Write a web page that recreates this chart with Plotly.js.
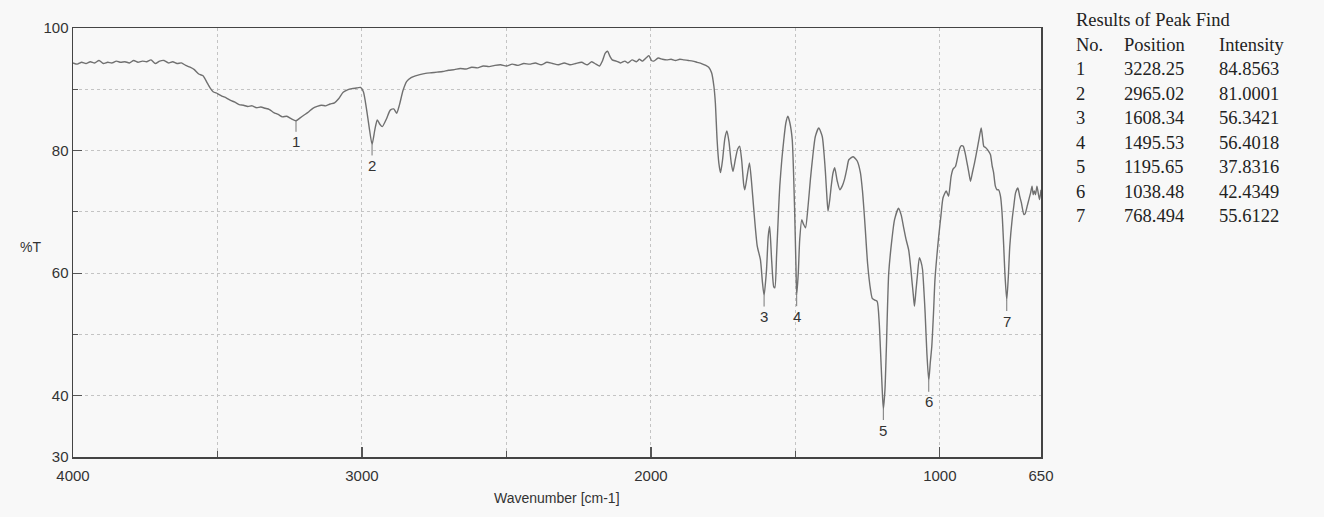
<!DOCTYPE html>
<html>
<head>
<meta charset="utf-8">
<script src="https://cdn.plot.ly/plotly-3.0.1.min.js"></script>
<style>
html,body{margin:0;padding:0;background:#f8f8f8;}
#chart{width:1324px;height:517px;}
</style>
</head>
<body>
<div id="chart"></div>
<script>
// ---- Spectrum data (wavenumber cm-1, %T) ----
var wavenumber = [
4000,3985,3970,3955,3940,3925,3910,3895,3880,3865,3850,3835,3820,3805,3790,3775,3760,3745,3730,3715,
3700,3685,3670,3655,3640,3625,3610,3595,3580,3565,3550,3535,3525,3515,3500,3485,3470,3455,3440,3425,
3410,3395,3380,3365,3350,3335,3320,3305,3290,3275,3260,3245,3228.25,3215,3200,3185,3170,3155,3140,3125,
3110,3095,3080,3065,3050,3035,3020,3005,2995,2985,2975,2965.02,2955,2947,2938,2930,2915,2902,2890,2880,
2870,2858,2845,2830,2815,2800,2780,2760,2740,2720,2700,2680,2660,2640,2620,2600,2580,2560,2540,2520,
2500,2480,2460,2440,2420,2400,2380,2360,2340,2320,2300,2280,2260,2240,2220,2205,2190,2178,2168,2158,
2150,2142,2134,2120,2105,2090,2080,2065,2050,2040,2030,2015,2007,1998,1990,1975,1960,1945,1930,1915,
1900,1886,1870,1855,1840,1825,1810,1800,1790,1782,1777,1771,1765,1759,1752,1744,1737,1730,1722,1716,
1708,1700,1693,1686,1679,1675,1668,1659,1652,1644,1632,1621,1614,1608.34,1600,1594,1589,1582,1575,1571,
1565,1558,1554,1547,1540,1533,1526,1519,1511,1503,1498,1495.53,1490,1485,1478,1472,1465,1456,1448,1440,
1431,1419,1407,1400,1396,1391,1387,1381,1376,1370,1364,1355,1346,1338,1330,1322,1315,1300,1286,1275,
1268,1263,1258,1250,1240,1234,1225,1217,1210,1206,1200,1195.65,1190,1185,1177,1166,1157,1143,1134,1126,
1117,1108,1100,1097,1092,1088,1083,1077,1071,1065,1060,1055,1051,1045,1038.48,1033,1028,1022,1017,1010,
1004,996,989,978,970,961,954,946,938,931,925,919,913,908,900,894,887,880,871,864,
857,852,848,842,836,830,825,819,814,808,802,797,790,785,779,775,768.494,763,758,750,
744,738,730,724,718,709,704,698,692,686,681,677,673,669,664,659,655,650
];
var transmittance = [
94.3,94.1,94.4,94.2,94.5,94.3,94.7,94.2,94.4,94.3,94.6,94.4,94.5,94.3,94.7,94.4,94.6,94.5,94.8,94.2,
94.6,94.7,94.3,94.5,94.2,94.3,93.9,93.6,93.2,92.5,92.2,91.0,90.2,89.6,89.3,88.9,88.6,88.2,87.9,87.5,
87.4,87.2,87.3,87.0,87.1,86.9,86.7,86.2,85.9,85.5,85.6,85.2,84.86,85.3,85.8,86.3,86.9,87.2,87.4,87.3,
87.6,87.8,88.5,89.5,89.9,90.1,90.2,90.3,89.6,87.0,83.8,81.0,83.5,85.0,84.3,83.9,85.2,86.6,86.8,86.1,
87.5,89.8,91.3,91.9,92.2,92.4,92.6,92.7,92.8,92.9,93.1,93.2,93.4,93.3,93.6,93.5,93.8,93.7,93.9,94.0,
93.8,94.1,93.9,94.2,94.1,94.3,94.0,94.4,94.2,94.0,94.3,94.0,94.2,94.4,94.0,94.5,94.1,93.8,94.6,95.9,
96.2,95.4,94.8,94.6,94.3,94.6,94.3,94.8,94.5,94.9,94.6,95.2,95.5,94.7,94.6,95.1,94.9,94.8,94.9,94.7,
94.9,94.8,94.7,94.6,94.4,94.2,93.9,93.6,92.7,90.5,87.8,81.8,78.0,76.4,78.5,82.0,83.2,81.5,78.0,76.6,
78.5,80.2,80.7,78.5,74.5,73.6,75.5,78.0,75.0,70.4,64.4,62.2,58.5,56.34,60.5,66.0,67.6,62.0,57.8,57.6,
63.0,70.5,74.2,78.5,81.8,84.5,85.6,84.5,81.8,70.9,61.0,56.40,60.0,65.5,68.7,68.0,67.4,71.0,75.3,79.0,
82.3,83.7,82.3,79.0,76.4,72.5,70.1,72.0,74.2,76.3,77.2,75.0,73.6,74.2,75.3,77.0,78.5,79.0,78.3,76.4,
73.5,70.5,67.1,61.5,57.3,55.9,55.6,55.4,52.0,48.0,41.5,37.83,41.0,48.0,60.0,65.5,68.7,70.6,69.5,67.6,
65.5,63.8,60.5,58.9,56.5,54.6,57.0,60.0,62.5,61.8,60.6,57.0,53.5,47.0,42.43,45.5,48.0,53.5,58.9,63.0,
66.0,69.5,72.3,73.4,72.55,75.8,77.0,77.4,79.0,80.4,80.8,80.7,79.7,78.5,76.5,75.0,76.5,78.0,80.2,82.0,
83.7,82.0,80.7,80.5,80.2,79.8,79.35,77.5,76.4,74.2,73.6,73.6,72.5,70.0,64.4,60.0,55.61,59.5,64.4,68.7,
71.0,73.1,73.9,72.6,71.5,69.55,69.8,70.9,72.0,73.1,74.2,72.8,73.4,72.8,74.2,72.9,72.0,73.6
];

// ---- Peak find results ----
var peakNo = ["1","2","3","4","5","6","7"];
var peakPosition = [3228.25, 2965.02, 1608.34, 1495.53, 1195.65, 1038.48, 768.494];
var peakIntensity = [84.8563, 81.0001, 56.3421, 56.4018, 37.8316, 42.4349, 55.6122];
var peakPositionText = ["3228.25","2965.02","1608.34","1495.53","1195.65","1038.48","768.494"];
var peakIntensityText = ["84.8563","81.0001","56.3421","56.4018","37.8316","42.4349","55.6122"];

// ---- Axis ticks ----
var xMajorTicks = [4000, 3000, 2000, 1000, 650];
var xMinorTicks = [3500, 2500, 1500];
var yMajorTicks = [30, 40, 60, 80, 100];
var yMinorTicks = [50, 70, 90];

// ---- layout geometry (pixels) ----
var W = 1324, H = 517;
var mL = 73, mR = 283, mT = 28, mB = 60;
var plotW = W - mL - mR, plotH = H - mT - mB;
function px2x(px){ return (px - mL) / plotW; }
function py2y(py){ return (H - mB - py) / plotH; }

var sansFont = '"Liberation Sans", Arial, sans-serif';
var serifFont = '"Liberation Serif", "Times New Roman", serif';

var annotations = [];
// peak labels
for (var i = 0; i < peakNo.length; i++) {
  annotations.push({
    x: peakPosition[i], y: peakIntensity[i], xref: 'x', yref: 'y',
    text: peakNo[i], showarrow: true, arrowhead: 0, arrowwidth: 1,
    arrowcolor: '#777', ax: 0, ay: 21,
    font: {family: sansFont, size: 15, color: '#333'}
  });
}
// y axis title
annotations.push({
  xref: 'paper', yref: 'paper', x: px2x(30), y: py2y(247),
  xanchor: 'center', yanchor: 'middle', showarrow: false,
  text: '%T', font: {family: sansFont, size: 14, color: '#333'}
});
// x axis title
annotations.push({
  xref: 'paper', yref: 'paper', x: px2x(557), y: py2y(498),
  xanchor: 'center', yanchor: 'middle', showarrow: false,
  text: 'Wavenumber [cm-1]', font: {family: sansFont, size: 14, color: '#333'}
});
// results table
var tFont = {family: serifFont, size: 18.5, color: '#222'};
var colX = [1075, 1123, 1218];
var rowY0 = 69, rowStep = 24.5;
annotations.push({xref:'paper', yref:'paper', x:px2x(1074), y:py2y(20), xanchor:'left', yanchor:'middle',
  showarrow:false, text:'Results of Peak Find', font:tFont});
var header = ['No.', 'Position', 'Intensity'];
for (var c = 0; c < 3; c++) {
  annotations.push({xref:'paper', yref:'paper', x:px2x(colX[c] - 1), y:py2y(45), xanchor:'left', yanchor:'middle',
    showarrow:false, text:header[c], font:tFont});
}
for (var r = 0; r < peakNo.length; r++) {
  var cells = [peakNo[r], peakPositionText[r], peakIntensityText[r]];
  for (var c2 = 0; c2 < 3; c2++) {
    annotations.push({xref:'paper', yref:'paper', x:px2x(colX[c2] - 1), y:py2y(rowY0 + r*rowStep),
      xanchor:'left', yanchor:'middle', showarrow:false, text:cells[c2], font:tFont});
  }
}

var trace = {
  x: wavenumber, y: transmittance, type: 'scatter', mode: 'lines',
  line: {color: '#707070', width: 1.4, shape: 'spline', smoothing: 0.6},
  hoverinfo: 'x+y'
};

var layout = {
  width: W, height: H,
  margin: {l: mL, r: mR, t: mT, b: mB, pad: 0},
  paper_bgcolor: '#f8f8f8', plot_bgcolor: '#f8f8f8',
  showlegend: false,
  xaxis: {
    range: [4000, 650], autorange: false,
    tickmode: 'array', tickvals: xMajorTicks, ticktext: xMajorTicks.map(String),
    ticks: 'inside', ticklen: 10, tickwidth: 1.2, tickcolor: '#555',
    ticklabelstandoff: 4,
    showgrid: true, gridcolor: '#c4c4c4', griddash: 'dot', gridwidth: 1,
    minor: {tickmode: 'array', tickvals: xMinorTicks, ticks: 'inside', ticklen: 6, tickcolor: '#555',
            showgrid: true, gridcolor: '#c4c4c4', griddash: 'dot', gridwidth: 1},
    showline: true, linecolor: '#444', linewidth: 1.5, mirror: true,
    zeroline: false,
    tickfont: {family: sansFont, size: 15, color: '#333'}
  },
  yaxis: {
    range: [30, 100], autorange: false,
    tickmode: 'array', tickvals: yMajorTicks, ticktext: yMajorTicks.map(String),
    ticks: 'inside', ticklen: 9, tickwidth: 1.2, tickcolor: '#555',
    showgrid: true, gridcolor: '#c4c4c4', griddash: 'dot', gridwidth: 1,
    minor: {tickmode: 'array', tickvals: yMinorTicks, ticks: 'inside', ticklen: 5, tickcolor: '#555',
            showgrid: true, gridcolor: '#c4c4c4', griddash: 'dot', gridwidth: 1},
    showline: true, linecolor: '#444', linewidth: 1.5, mirror: true,
    zeroline: false,
    tickfont: {family: sansFont, size: 15, color: '#333'}
  },
  annotations: annotations
};

Plotly.newPlot('chart', [trace], layout, {staticPlot: true, displayModeBar: false});
</script>
</body>
</html>
